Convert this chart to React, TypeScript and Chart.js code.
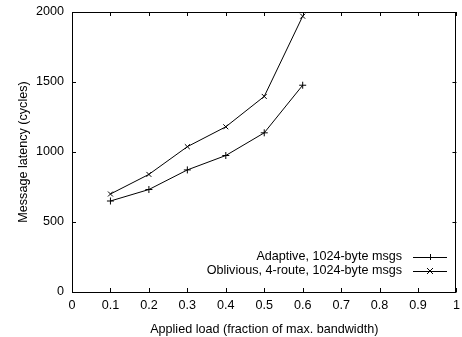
import React, { useEffect, useRef } from "react";
import { Chart, registerables } from "chart.js";

Chart.register(...registerables);

const loads = [0.1, 0.2, 0.3, 0.4, 0.5, 0.6];
const adaptive = [650, 732, 872, 975, 1137, 1477];
const oblivious = [700, 840, 1038, 1180, 1397, 1970];
const seriesNames = ["Adaptive, 1024-byte msgs", "Oblivious, 4-route, 1024-byte msgs"];
const xTicks = ["0", "0.1", "0.2", "0.3", "0.4", "0.5", "0.6", "0.7", "0.8", "0.9", "1"];
const yTicks = ["0", "500", "1000", "1500", "2000"];
const xTitle = "Applied load (fraction of max. bandwidth)";
const yTitle = "Message latency (cycles)";

const FONT = "'Liberation Sans', Arial, Helvetica, sans-serif";
const FS = 12.6;

const framePlugin = {
  id: "gnuFrame",
  afterDatasetsDraw(chart: any) {
    const { ctx, chartArea } = chart;
    const xs = chart.scales.x;
    const ys = chart.scales.y;
    const { left, right, top, bottom } = chartArea;
    ctx.save();
    ctx.strokeStyle = "#000";
    ctx.lineWidth = 1;
    ctx.beginPath();
    ctx.rect(Math.round(left) + 0.5, Math.round(top) + 0.5, Math.round(right - left) - 1, Math.round(bottom - top));
    ctx.stroke();
    const tl = 4;
    ctx.beginPath();
    xTicks.forEach((t) => {
      const px = Math.round(xs.getPixelForValue(parseFloat(t))) + 0.5;
      ctx.moveTo(px, bottom);
      ctx.lineTo(px, bottom - tl);
      ctx.moveTo(px, top);
      ctx.lineTo(px, top + tl);
    });
    yTicks.forEach((t) => {
      const py = Math.round(ys.getPixelForValue(parseFloat(t))) + 0.5;
      ctx.moveTo(left, py);
      ctx.lineTo(left + tl, py);
      ctx.moveTo(right, py);
      ctx.lineTo(right - tl, py);
    });
    ctx.stroke();

    // legend (gnuplot style: text right aligned, sample on the right)
    ctx.font = `${FS}px ${FONT}`;
    ctx.fillStyle = "#000";
    ctx.textAlign = "right";
    ctx.textBaseline = "middle";
    const rows = [257, 271];
    const styles = ["cross", "crossRot"];
    seriesNames.forEach((name, i) => {
      const y = rows[i];
      ctx.fillText(name, 402, y);
      ctx.beginPath();
      ctx.moveTo(413, y + 0.5);
      ctx.lineTo(447, y + 0.5);
      ctx.stroke();
      const cx = 430;
      const r = 3;
      ctx.beginPath();
      if (styles[i] === "cross") {
        ctx.moveTo(cx - r, y + 0.5);
        ctx.lineTo(cx + r, y + 0.5);
        ctx.moveTo(cx + 0.5, y - r);
        ctx.lineTo(cx + 0.5, y + r);
      } else {
        ctx.moveTo(cx - r, y - r);
        ctx.lineTo(cx + r, y + r);
        ctx.moveTo(cx - r, y + r);
        ctx.lineTo(cx + r, y - r);
      }
      ctx.stroke();
    });
    ctx.restore();
  },
};

export default function App() {
  const ref = useRef<HTMLCanvasElement>(null);
  useEffect(() => {
    const canvas = ref.current;
    if (!canvas) return;
    const chart = new Chart(canvas, {
      type: "line",
      data: {
        datasets: [
          {
            label: seriesNames[0],
            data: loads.map((x, i) => ({ x, y: adaptive[i] })),
            borderColor: "#000",
            backgroundColor: "#000",
            borderWidth: 1,
            pointStyle: "cross",
            pointRadius: 3.5,
            pointBorderWidth: 1,
            pointBorderColor: "#000",
            tension: 0,
          },
          {
            label: seriesNames[1],
            data: loads.map((x, i) => ({ x, y: oblivious[i] })),
            borderColor: "#000",
            backgroundColor: "#000",
            borderWidth: 1,
            pointStyle: "crossRot",
            pointRadius: 3.5,
            pointBorderWidth: 1,
            pointBorderColor: "#000",
            tension: 0,
          },
        ],
      },
      options: {
        animation: false,
        responsive: false,
        maintainAspectRatio: false,
        layout: { padding: { top: 12, right: 1, left: 0, bottom: 0 } },
        plugins: { legend: { display: false }, tooltip: { enabled: false } },
        scales: {
          x: {
            type: "linear",
            min: 0,
            max: 1,
            grid: { display: false, drawTicks: false },
            border: { display: false },
            afterBuildTicks: (s: any) => {
              s.ticks = xTicks.map((t) => ({ value: parseFloat(t) }));
            },
            afterFit: (s: any) => {
              s.height = 45;
            },
            ticks: {
              color: "#000",
              font: { family: FONT, size: FS },
              padding: 6,
              maxRotation: 0,
              autoSkip: false,
              callback: (_v: any, i: number) => xTicks[i],
            },
            title: {
              display: true,
              text: xTitle,
              color: "#000",
              font: { family: FONT, size: FS },
              padding: { top: 0, bottom: 0 },
            },
          },
          y: {
            type: "linear",
            min: 0,
            max: 2000,
            grid: { display: false, drawTicks: false },
            border: { display: false },
            afterBuildTicks: (s: any) => {
              s.ticks = yTicks.map((t) => ({ value: parseFloat(t) }));
            },
            afterFit: (s: any) => {
              s.width = 72;
              s.paddingTop = 0;
              s.paddingBottom = 0;
            },
            ticks: {
              color: "#000",
              font: { family: FONT, size: FS },
              padding: 8,
              autoSkip: false,
              callback: (_v: any, i: number) => yTicks[i],
            },
            title: {
              display: true,
              text: yTitle,
              color: "#000",
              font: { family: FONT, size: FS },
              padding: { top: 16, bottom: 0 },
            },
          },
        },
      },
      plugins: [framePlugin],
    });
    return () => chart.destroy();
  }, []);
  return (
    <div style={{ position: "absolute", left: 0, top: 0, width: 462, height: 337, overflow: "hidden", background: "#fff" }}>
      <canvas ref={ref} width={466} height={337} style={{ width: 466, height: 337, display: "block" }} />
    </div>
  );
}
